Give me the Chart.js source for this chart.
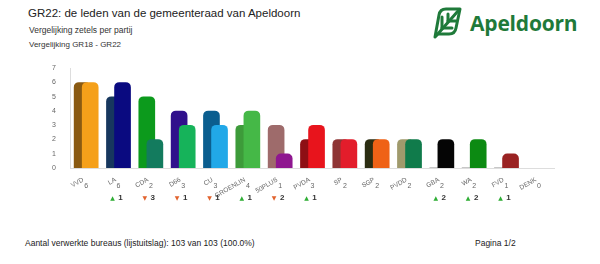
<!DOCTYPE html>
<html>
<head>
<meta charset="utf-8">
<script src="https://cdn.jsdelivr.net/npm/chart.js@4/dist/chart.umd.min.js"></script>
<style>
  body { margin: 0; width: 600px; height: 264px; background: #fff; font-family: "Liberation Sans", Arial, sans-serif; position: relative; overflow: hidden; }
  .t1 { position: absolute; left: 28px; top: 7px; font-size: 11.5px; color: #222; }
  .t2 { position: absolute; left: 29px; top: 25px; font-size: 8.5px; color: #333; }
  .t3 { position: absolute; left: 29px; top: 40px; font-size: 8px; color: #333; }
  .logo { position: absolute; left: 432px; top: 6px; display: flex; align-items: center; }
  .logo span { font-family: "Open Sans", sans-serif; font-weight: 700; font-size: 21px; color: #1f7a3a; margin-left: 7px; letter-spacing: -0.2px; }
  .foot { position: absolute; left: 25px; top: 238px; font-size: 8.5px; color: #222; }
  .page { position: absolute; left: 475px; top: 238px; font-size: 8.5px; color: #222; }
  #wrap { position: absolute; left: 26px; top: 58px; width: 529px; height: 150px; }
</style>
</head>
<body>
<div class="t1">GR22: de leden van de gemeenteraad van Apeldoorn</div>
<div class="t2">Vergelijking zetels per partij</div>
<div class="t3">Vergelijking GR18 - GR22</div>
<div class="logo">
  <svg width="31" height="33" viewBox="0 0 31 33">
    <g fill="none" stroke="#1f7a3a" stroke-width="3" stroke-linejoin="round" stroke-linecap="round">
      <path d="M3 31 L7 9 Q8 3 14 3 L28 3 L24 22 Q23 28 17 28 L6 28"/>
      <path d="M4 30 L26 5"/>
      <path d="M10 22 L10 11"/>
      <path d="M16 15 L16 8"/>
      <path d="M10 22 L20 22"/>
      <path d="M16 15 L24 15"/>
    </g>
  </svg>
  <span>Apeldoorn</span>
</div>
<div id="wrap"><canvas id="chart"></canvas></div>
<div class="foot">Aantal verwerkte bureaus (lijstuitslag): 103 van 103 (100.0%)</div>
<div class="page">Pagina 1/2</div>
<script>
"use strict";
const parties = ['VVD', 'LA', 'CDA', 'D66', 'CU', 'GROENLIN', '50PLUS', 'PVDA', 'SP', 'SGP', 'PVDD', 'GBA', 'WA', 'FVD', 'DENK'];
const seatsGR18 = [6, 5, 5, 4, 4, 3, 3, 2, 2, 2, 2, 0, 0, 0, 0];
const seatsGR22 = [6, 6, 2, 3, 3, 4, 1, 3, 2, 2, 2, 2, 2, 1, 0];
const changes = [0, 1, -3, -1, -1, 1, -2, 1, 0, 0, 0, 2, 2, 1, 0];
const colorsGR18 = ['#8a5a12', '#17375e', '#0c9a1c', '#30108c', '#0b5e8f', '#3d9b3a', '#9e6b6b', '#8e0f14', '#8e3535', '#2b2d12', '#a09a6c', '#222', '#222', '#222', 'rgba(0,0,0,0)'];
const colorsGR22 = ['#f5a01a', '#0a0a80', '#137b5e', '#16b35a', '#21a8e8', '#45b847', '#8f1790', '#e8141c', '#e31d2b', '#ef6216', '#107b4b', '#050505', '#0c8a12', '#9a2323', 'rgba(0,0,0,0)'];

// second row (seats) and third row (change) under the party names
const rowsPlugin = {
    id: 'rows',
    afterDraw: function (chart) {
        const ctx = chart.ctx;
        const xs = chart.scales.x;
        const base = chart.chartArea.bottom;
        ctx.save();
        ctx.textBaseline = 'middle';
        ctx.textAlign = 'center';
        for (let i = 0; i < parties.length; i++) {
            const x = xs.getPixelForValue(i);
            ctx.font = '7px "Liberation Sans", Arial, sans-serif';
            ctx.fillStyle = '#666';
            ctx.fillText(String(seatsGR22[i]), x, base + 18);
            if (changes[i] !== 0) {
                ctx.font = '6px "DejaVu Sans", sans-serif';
                ctx.fillStyle = changes[i] > 0 ? '#2fae35' : '#e2632e';
                ctx.fillText(changes[i] > 0 ? '▲' : '▼', x - 6, base + 30);
                ctx.font = 'bold 8px "Liberation Sans", Arial, sans-serif';
                ctx.fillStyle = '#333';
                ctx.fillText(String(Math.abs(changes[i])), x + 2, base + 30);
            }
        }
        ctx.restore();
    }
};

function toPoints(values, shift) {
    return values.map(function (v, i) { return { x: i + shift, y: v }; });
}

new Chart(document.getElementById('chart'), {
    type: 'bar',
    data: {
        datasets: [{
            label: 'GR22',
            data: toPoints(seatsGR22, 0.125),
            backgroundColor: colorsGR22,
            borderRadius: 5,
            barThickness: 16,
            grouped: false
        }, {
            label: 'GR18',
            data: toPoints(seatsGR18, -0.125),
            backgroundColor: colorsGR18,
            borderRadius: 5,
            barThickness: 16,
            grouped: false
        }]
    },
    options: {
        responsive: true,
        maintainAspectRatio: false,
        animation: false,
        layout: { padding: 0 },
        plugins: { legend: { display: false }, tooltip: { enabled: false } },
        scales: {
            x: {
                type: 'linear',
                offset: false,
                min: -0.5,
                max: 14.5,
                grid: { display: false },
                border: { color: '#ddd' },
                afterBuildTicks: function (s) {
                    s.ticks = parties.map(function (p, i) { return { value: i }; });
                },
                afterFit: function (s) { s.height = 40; },
                ticks: {
                    autoSkip: false,
                    minRotation: 30,
                    maxRotation: 30,
                    padding: 0,
                    labelOffset: -3,
                    color: '#666',
                    font: { size: 6.5, family: '"Liberation Sans", Arial, sans-serif' },
                    callback: function (v) { return parties[v]; }
                }
            },
            y: {
                min: 0,
                max: 7,
                grid: { display: false },
                border: { color: '#ddd' },
                afterFit: function (s) { s.width = 44; },
                ticks: {
                    stepSize: 1,
                    padding: 6,
                    color: '#666',
                    font: { size: 7, family: '"Liberation Sans", Arial, sans-serif' }
                }
            }
        }
    },
    plugins: [rowsPlugin]
});
</script>
</body>
</html>
